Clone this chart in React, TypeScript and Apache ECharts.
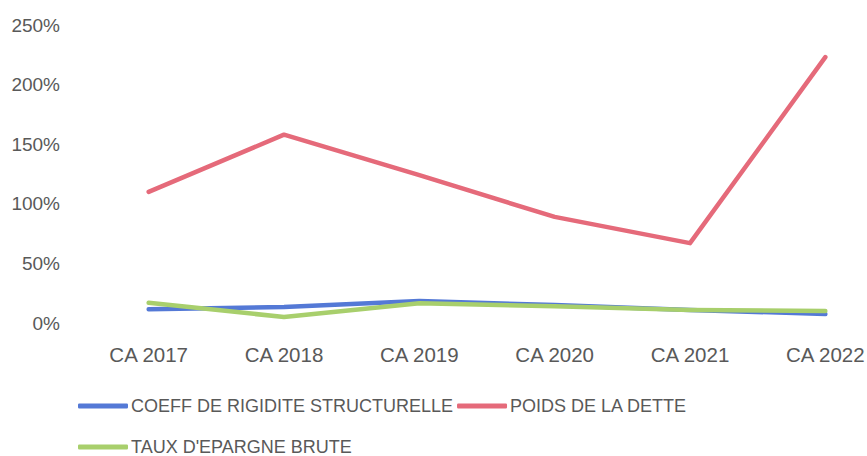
import React, { useEffect, useRef } from "react";
import * as echarts from "echarts";

const categories = ["CA 2017", "CA 2018", "CA 2019", "CA 2020", "CA 2021", "CA 2022"];
const coeffRigidite = [11.5, 13.5, 18.5, 15, 11, 7.5];
const poidsDette = [110, 158, 124, 89, 67, 223];
const tauxEpargne = [17, 5, 16.5, 14, 11, 10];
const yTicks = [0, 50, 100, 150, 200, 250];

const FONT = "'Liberation Sans', Arial, sans-serif";
const TEXT = "#595959";

export default function App() {
  const ref = useRef<HTMLDivElement>(null);
  useEffect(() => {
    if (!ref.current) return;
    const chart = echarts.init(ref.current, null, { renderer: "svg" });
    const lineSeries = (name: string, data: number[], color: string) => ({
      name,
      type: "line",
      data,
      symbol: "none",
      lineStyle: { color, width: 4.5, cap: "round", join: "round" },
      itemStyle: { color },
    });
    const legendBase = {
      left: 78,
      padding: 0,
      itemWidth: 50,
      itemHeight: 5,
      itemGap: 4,
      icon: "roundRect",
      textStyle: { color: TEXT, fontSize: 18, fontFamily: FONT, padding: [0, 0, 0, -2] },
    };
    chart.setOption({
      animation: false,
      backgroundColor: "#ffffff",
      textStyle: { fontFamily: FONT },
      grid: { left: 81, top: 25, width: 812, height: 298, containLabel: false, outerBoundsMode: "none" },
      xAxis: {
        type: "category",
        data: categories,
        boundaryGap: true,
        axisLine: { show: false },
        axisTick: { show: false },
        axisLabel: { color: TEXT, fontSize: 20.5, fontFamily: FONT, margin: 21 },
      },
      yAxis: {
        type: "value",
        min: yTicks[0],
        max: yTicks[yTicks.length - 1],
        interval: 50,
        splitLine: { show: false },
        axisLine: { show: false },
        axisTick: { show: false },
        axisLabel: {
          color: TEXT,
          fontSize: 19,
          fontFamily: FONT,
          margin: 21,
          formatter: (v: number) => v + "%",
        },
      },
      legend: [
        { ...legendBase, top: 397, data: ["COEFF DE RIGIDITE STRUCTURELLE", "POIDS DE LA DETTE"] },
        { ...legendBase, top: 438, data: ["TAUX D'EPARGNE BRUTE"] },
      ],
      series: [
        lineSeries("COEFF DE RIGIDITE STRUCTURELLE", coeffRigidite, "#5479D6"),
        lineSeries("POIDS DE LA DETTE", poidsDette, "#E56A7A"),
        lineSeries("TAUX D'EPARGNE BRUTE", tauxEpargne, "#A8CF6C"),
      ],
    });
    return () => chart.dispose();
  }, []);
  return (
    <div
      ref={ref}
      style={{ position: "fixed", left: 0, top: 0, width: 867, height: 456, overflow: "hidden" }}
    />
  );
}
